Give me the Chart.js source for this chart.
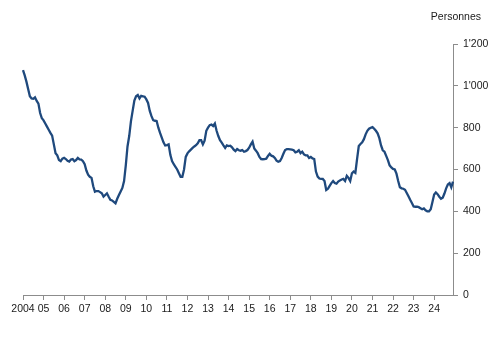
<!DOCTYPE html>
<html>
<head>
<meta charset="utf-8">
<script src="https://cdn.jsdelivr.net/npm/chart.js@4"></script>
<style>
html,body{margin:0;padding:0;background:#fff;}
#wrap{width:491px;height:340px;position:relative;}
</style>
</head>
<body>
<div id="wrap"><canvas id="c" width="491" height="340"></canvas></div>
<script>
const years = [2004,2005,2006,2007,2008,2009,2010,2011,2012,2013,2014,2015,2016,2017,2018,2019,2020,2021,2022,2023,2024];
const v2004 = [1075,1050,1020,985,950,940,938,945,928,915,870,845];
const v2005 = [835,820,805,790,775,762,720,678,668,645,640,652];
const v2006 = [656,650,642,638,648,650,640,645,655,648,647,640];
const v2007 = [625,595,575,565,560,520,494,497,497,492,486,470];
const v2008 = [478,486,470,455,452,445,438,460,478,495,512,545];
const v2009 = [620,710,760,830,880,930,950,956,940,952,950,948];
const v2010 = [935,918,880,855,836,833,832,800,775,752,730,715];
const v2011 = [717,720,670,640,625,613,600,582,565,565,600,660];
const v2012 = [677,687,695,703,710,716,725,740,740,720,738,785];
const v2013 = [800,812,815,808,820,785,760,740,728,715,703,715];
const v2014 = [712,714,706,695,688,698,692,690,693,685,688,693];
const v2015 = [704,720,733,700,690,678,660,650,649,650,652,665];
const v2016 = [675,666,663,655,642,637,640,655,675,693,697,697];
const v2017 = [696,695,692,682,685,692,678,685,672,668,668,655];
const v2018 = [660,653,650,590,566,557,555,555,545,502,508,522];
const v2019 = [535,545,535,532,542,548,552,555,545,570,560,545];
const v2020 = [582,590,584,650,712,722,730,745,768,785,795,800];
const v2021 = [803,795,785,773,750,715,692,685,665,645,620,610];
const v2022 = [603,600,580,545,515,510,508,503,488,472,455,440];
const v2023 = [423,422,422,420,415,410,414,405,400,400,410,445];
const v2024 = [480,490,482,470,460,465,485,510,528,535,515,542];
const yTicks = [0,200,400,600,800,1000,1200];
const unitLabel = 'Personnes';

const series = [].concat(v2004,v2005,v2006,v2007,v2008,v2009,v2010,v2011,v2012,v2013,v2014,v2015,v2016,v2017,v2018,v2019,v2020,v2021,v2022,v2023,v2024);
const labels = [];
years.forEach(y => { for (let m = 1; m <= 12; m++) labels.push(y + '-' + m); });

const FONT = {family: "'Liberation Sans', Arial, sans-serif", size: 10.5};
const AXIS = '#8c8c8c';
const TXT = '#1a1a1a';

function fmt(v){ return String(v).replace(/\B(?=(\d{3})+(?!\d))/g, "'"); }

const unitPlugin = {
  id: 'unitLabel',
  afterDraw(chart) {
    const ctx = chart.ctx;
    ctx.save();
    ctx.font = FONT.size + 'px ' + FONT.family;
    ctx.fillStyle = TXT;
    ctx.textAlign = 'right';
    ctx.textBaseline = 'middle';
    ctx.fillText(unitLabel, chart.width - 10, 17.5);
    ctx.restore();
  }
};

new Chart(document.getElementById('c'), {
  type: 'line',
  data: {
    labels: labels,
    datasets: [{
      data: series,
      borderColor: '#1f497d',
      borderWidth: 2.3,
      pointRadius: 0,
      tension: 0,
      fill: false
    }]
  },
  plugins: [unitPlugin],
  options: {
    responsive: false,
    animation: false,
    events: [],
    layout: {padding: {left: 23, right: 0, top: 44, bottom: 0}},
    plugins: {
      legend: {display: false},
      tooltip: {enabled: false},
      title: {display: false}
    },
    scales: {
      x: {
        type: 'category',
        offset: false,
        grid: {display: true, drawOnChartArea: false, drawTicks: true, tickLength: 5, color: AXIS},
        border: {display: true, color: AXIS, width: 1},
        ticks: {
          autoSkip: false, maxRotation: 0, minRotation: 0, padding: 3,
          color: TXT, font: FONT,
          callback: function(val, idx) {
            const lab = labels[idx];
            const parts = lab.split('-');
            if (parts[1] !== '1') return null;
            const y = parseInt(parts[0], 10);
            return y === years[0] ? String(y) : String(y).slice(2);
          }
        },
        afterFit: function(s){ s.height = 45; }
      },
      y: {
        position: 'right',
        min: 0, max: 1200,
        afterBuildTicks: function(s){ s.ticks = yTicks.map(v => ({value: v})); },
        grid: {display: true, drawOnChartArea: false, drawTicks: true, tickLength: 5, color: AXIS},
        border: {display: true, color: AXIS, width: 1},
        ticks: {color: TXT, font: FONT, padding: 5, callback: v => fmt(v)},
        afterFit: function(s){ s.width = 38; }
      }
    }
  }
});
</script>
</body>
</html>
